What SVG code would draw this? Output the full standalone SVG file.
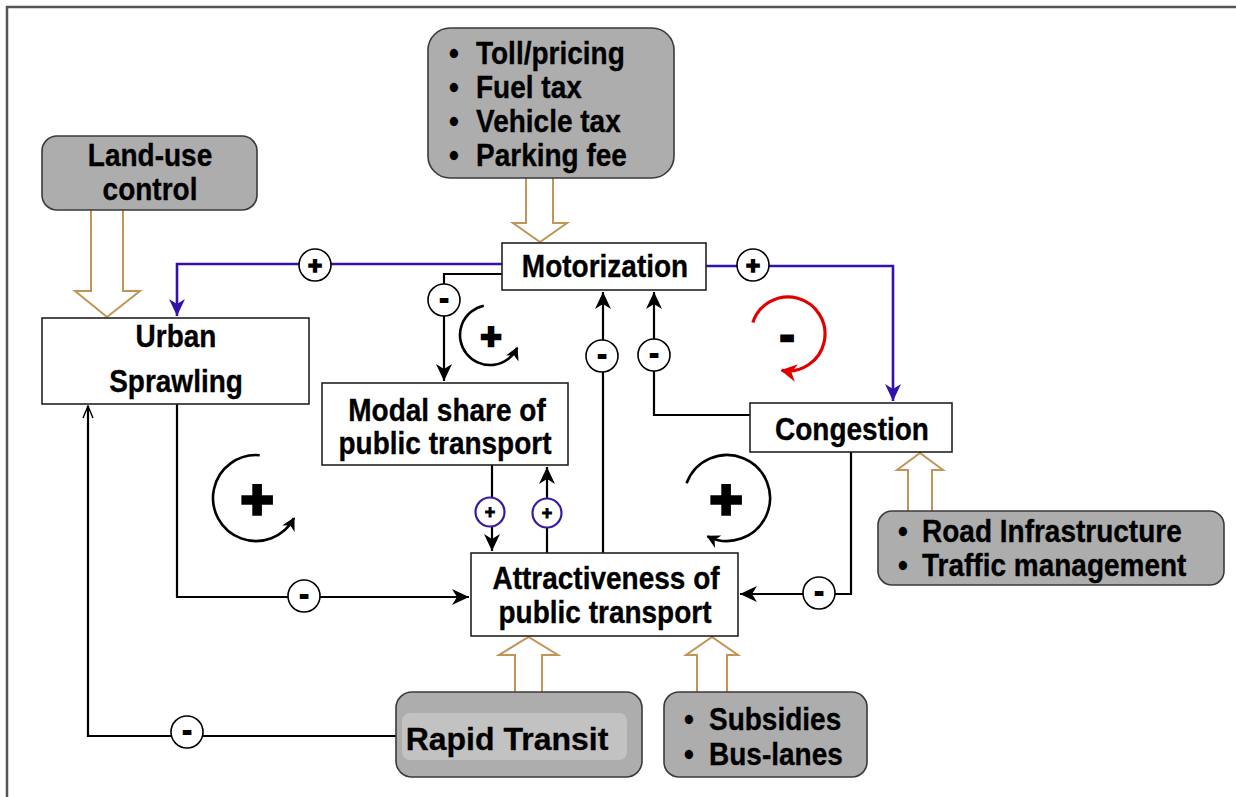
<svg xmlns="http://www.w3.org/2000/svg" width="1236" height="797" viewBox="0 0 1236 797">
<style>
.t{font-family:"Liberation Sans",Arial,sans-serif;font-weight:bold;font-size:28px;fill:#000;stroke:#000;stroke-width:0.3}
.box{fill:#fff;stroke:#222;stroke-width:1.6}
.pol{fill:#adadad;stroke:#3a3a3a;stroke-width:1.6}
.hol{fill:#fff;stroke:#c39457;stroke-width:2}
.ln{fill:none;stroke:#000;stroke-width:2.2}
.bl{fill:none;stroke:#3311aa;stroke-width:2.6}
.c{fill:#fff;stroke:#000;stroke-width:1.6}
.cb{fill:#fff;stroke:#3a1aa0;stroke-width:2.2}
.sg{font-family:"Liberation Sans",Arial,sans-serif;font-weight:bold;fill:#000;stroke:#000;text-anchor:middle}
.loop{fill:none;stroke:#000;stroke-width:2.6}
</style>
<defs>
<marker id="ab" markerUnits="userSpaceOnUse" markerWidth="17" markerHeight="16" refX="17" refY="8" orient="auto">
<path d="M0,0 L17,8 L0,16 L5,8 z" fill="#000"/>
</marker>
<marker id="abl" markerUnits="userSpaceOnUse" markerWidth="17" markerHeight="16" refX="17" refY="8" orient="auto">
<path d="M0,0 L17,8 L0,16 L5,8 z" fill="#3311aa"/>
</marker>
<marker id="ao" markerUnits="userSpaceOnUse" markerWidth="14" markerHeight="12" refX="13" refY="6" orient="auto">
<path d="M1,1 L13,6 L1,11" fill="none" stroke="#000" stroke-width="1.4"/>
</marker>
<marker id="al" markerUnits="userSpaceOnUse" markerWidth="14" markerHeight="14" refX="12" refY="7" orient="auto">
<path d="M0,0 L13,7 L0,14 L4,7 z" fill="#000"/>
</marker>
<marker id="ar" markerUnits="userSpaceOnUse" markerWidth="18" markerHeight="18" refX="15" refY="9" orient="auto">
<path d="M0,0 L16,9 L0,18 L5,9 z" fill="#e00000"/>
</marker>
</defs>
<rect x="7" y="7" width="1240" height="800" fill="none" stroke="#555" stroke-width="2.5"/>

<g id="connectors">
<polygon class="hol" points="91,208 123,208 123,291 140,291 107,317 75,291 91,291"/>
<polygon class="hol" points="526,176 553,176 553,223 567,223 540,242 513,223 526,223"/>
<polygon class="hol" points="908,513 932,513 932,470 943,470 920,453 897,470 908,470"/>
<polygon class="hol" points="515,694 542,694 542,655 558,655 528.5,637 499,655 515,655"/>
<polygon class="hol" points="697,694 727,694 727,655 738,655 712,637 686,655 697,655"/>

<path class="bl" d="M502,264 H177 V316" marker-end="url(#abl)"/>
<path class="bl" d="M706,266 H893 V401" marker-end="url(#abl)"/>
<path class="ln" d="M502,274 H444 V381" marker-end="url(#ab)"/>
<path class="ln" d="M603,553 V292" marker-end="url(#ab)"/>
<path class="ln" d="M750,415 H654 V292" stroke-width="3" marker-end="url(#ab)"/>
<path class="ln" d="M177,404 V597 H469" marker-end="url(#ab)"/>
<path class="ln" d="M851,452 V594 H740" marker-end="url(#ab)"/>
<path class="ln" d="M492,465 V551" marker-end="url(#ab)"/>
<path class="ln" d="M547,553 V467" stroke-width="1.6" marker-end="url(#ab)"/>
<path class="ln" d="M396,736 H88 V406" stroke-width="1.5" marker-end="url(#ao)"/>

<circle class="c" cx="315" cy="265" r="16"/>
<text class="sg" x="315" y="274" font-size="24" stroke-width="1.6">+</text>
<circle class="c" cx="753" cy="265" r="16"/>
<text class="sg" x="753" y="274" font-size="24" stroke-width="1.6">+</text>
<circle class="c" cx="444" cy="300" r="16"/>
<text class="sg" x="444" y="307" font-size="26" stroke-width="2">-</text>
<circle class="c" cx="602" cy="356" r="16"/>
<text class="sg" x="602" y="363" font-size="26" stroke-width="2">-</text>
<circle class="c" cx="654" cy="355" r="16"/>
<text class="sg" x="654" y="362" font-size="26" stroke-width="2">-</text>
<circle class="c" cx="304" cy="596" r="16"/>
<text class="sg" x="304" y="603" font-size="26" stroke-width="2">-</text>
<circle class="c" cx="819" cy="593" r="16"/>
<text class="sg" x="819" y="600" font-size="26" stroke-width="2">-</text>
<circle class="c" cx="187" cy="732" r="16"/>
<text class="sg" x="187" y="739" font-size="26" stroke-width="2">-</text>
<circle class="cb" cx="490" cy="512" r="14.5"/>
<text class="sg" x="490" y="518" font-size="18" stroke-width="0.9">+</text>
<circle class="cb" cx="547" cy="513" r="14.5"/>
<text class="sg" x="547" y="519" font-size="18" stroke-width="0.9">+</text>

<path class="loop" d="M259.7,455.2 A43,43 0 1 0 294,518.2" marker-end="url(#al)"/>
<text class="sg" x="257" y="518" font-size="56" stroke-width="3.5">+</text>
<path class="loop" d="M686.6,483.3 A43,43 0 1 1 707.5,536.3" marker-end="url(#al)"/>
<text class="sg" x="726" y="518" font-size="56" stroke-width="3.5">+</text>
<path class="loop" d="M483.8,305.7 A30,30 0 1 0 517.2,347.7" stroke-width="1.8" marker-end="url(#al)"/>
<text class="sg" x="491" y="349" font-size="36" stroke-width="2.5">+</text>
<path d="M752.8,322.6 A37,37 0 1 1 781.6,370.4" fill="none" stroke="#e00000" stroke-width="3.2" marker-end="url(#ar)"/>
<text class="sg" x="787" y="350" font-size="44" stroke-width="2.5">-</text>
</g>

<g id="policy-pricing">
<rect class="pol" x="428" y="28" width="246" height="150" rx="22"/>
<g class="t">
<text transform="translate(449,64) scale(1,1.12)">•</text><text transform="translate(476,64) scale(1,1.12)">Toll/pricing</text>
<text transform="translate(449,98) scale(1,1.12)">•</text><text transform="translate(476,98) scale(1,1.12)">Fuel tax</text>
<text transform="translate(449,132) scale(1,1.12)">•</text><text transform="translate(476,132) scale(1,1.12)">Vehicle tax</text>
<text transform="translate(449,166) scale(1,1.12)">•</text><text transform="translate(476,166) scale(1,1.12)">Parking fee</text>
</g>
</g>

<g id="land-use">
<rect class="pol" x="42" y="136" width="215" height="74" rx="15"/>
<g class="t" text-anchor="middle">
<text transform="translate(150,166) scale(1,1.12)">Land-use</text>
<text transform="translate(150,200) scale(1,1.12)">control</text>
</g>
</g>

<g id="motorization">
<rect class="box" x="502" y="243" width="204" height="47"/>
<text class="t" text-anchor="middle" transform="translate(605,277) scale(1,1.12)">Motorization</text>
</g>

<g id="urban-sprawling">
<rect class="box" x="42" y="318" width="267" height="86"/>
<g class="t" text-anchor="middle">
<text transform="translate(176,347) scale(1,1.12)">Urban</text>
<text transform="translate(176,392) scale(1,1.12)">Sprawling</text>
</g>
</g>

<g id="modal-share">
<rect class="box" x="322" y="383" width="246" height="82"/>
<g class="t" text-anchor="middle">
<text transform="translate(447,421) scale(1,1.12)">Modal share of</text>
<text transform="translate(445,454) scale(1,1.12)">public transport</text>
</g>
</g>

<g id="congestion">
<rect class="box" x="750" y="403" width="202" height="49"/>
<text class="t" text-anchor="middle" transform="translate(852,440) scale(1,1.12)">Congestion</text>
</g>

<g id="attractiveness">
<rect class="box" x="471" y="553" width="267" height="83"/>
<g class="t" text-anchor="middle">
<text transform="translate(606,589) scale(1,1.12)">Attractiveness of</text>
<text transform="translate(605,623) scale(1,1.12)">public transport</text>
</g>
</g>

<g id="road-infrastructure">
<rect class="pol" x="878" y="511" width="346" height="74" rx="14"/>
<g class="t">
<text transform="translate(898,542) scale(1,1.12)">•</text><text transform="translate(922,542) scale(1,1.12)">Road Infrastructure</text>
<text transform="translate(898,576) scale(1,1.12)">•</text><text transform="translate(922,576) scale(1,1.12)">Traffic management</text>
</g>
</g>

<g id="rapid-transit">
<rect class="pol" x="396" y="692" width="246" height="85" rx="16"/>
<rect x="402" y="713" width="225" height="47" rx="8" fill="#c2c2c2"/>
<text class="t" text-anchor="middle" transform="translate(507,750)" style="font-size:32px">Rapid Transit</text>
</g>

<g id="subsidies">
<rect class="pol" x="664" y="692" width="203" height="85" rx="15"/>
<g class="t">
<text transform="translate(684,730) scale(1,1.12)">•</text><text transform="translate(709,730) scale(1,1.12)">Subsidies</text>
<text transform="translate(684,765) scale(1,1.12)">•</text><text transform="translate(709,765) scale(1,1.12)">Bus-lanes</text>
</g>
</g>
</svg>
